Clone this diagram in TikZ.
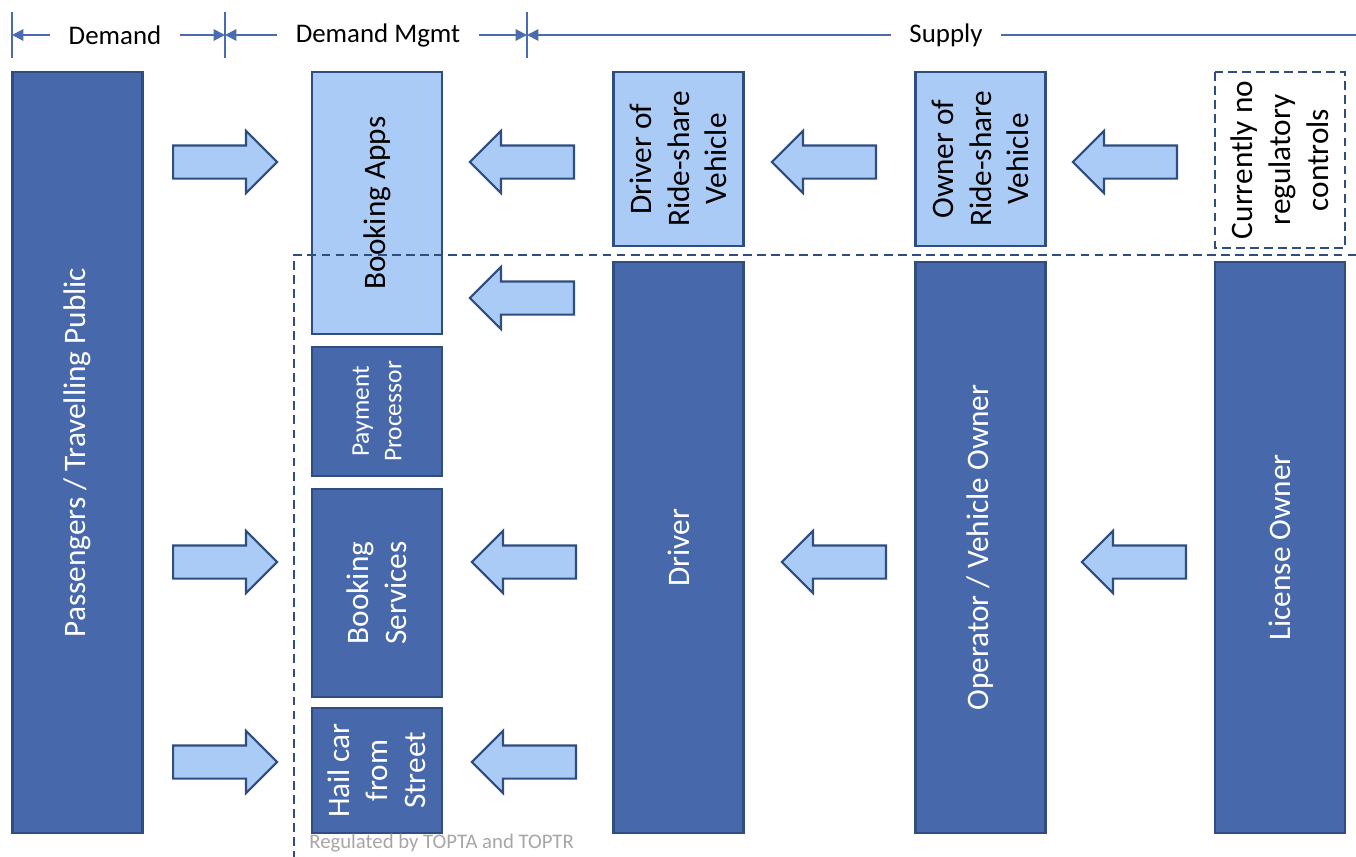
\documentclass[tikz,border=0pt]{standalone}
\usepackage{fontspec}
\setmainfont{Carlito}
\usetikzlibrary{arrows.meta, shapes.arrows}

\definecolor{dkblue}{HTML}{4868AC}
\definecolor{bdblue}{HTML}{2F4D80}
\definecolor{ltblue}{HTML}{AACBF5}
\definecolor{hdblue}{HTML}{4A6BB0}
\definecolor{notegray}{HTML}{A6A6A6}

\begin{document}
\begin{tikzpicture}[
          x=0.02cm, y=-0.02cm,
          dark/.style={rectangle, draw=bdblue, line width=1.2pt, fill=dkblue, text=white, minimum height=2.6cm, align=center, font=\fontsize{17.8}{21.5}\selectfont, inner sep=0pt, rotate=90},
          light/.style={dark, fill=ltblue, text=black},
          nocontrol/.style={dark, fill=none, text=black, dashed, dash pattern=on 5pt off 3pt},
          barrow/.style={single arrow, draw=bdblue, fill=ltblue, line width=1.2pt, inner sep=0.31cm, minimum height=2.08cm, single arrow head extend=0.29cm, single arrow head indent=0pt, anchor=tail},
          larrow/.style={barrow, shape border rotate=180},
          hdr/.style={font=\fontsize{15.3}{18}\selectfont, inner xsep=0.36cm, inner ysep=0pt},
          dim/.style={draw=hdblue, line width=1.1pt, -{Triangle[length=6.5pt, width=6.5pt]}},
          tick/.style={draw=hdblue, line width=1.1pt}
        ]
          \useasboundingbox (0,0) rectangle (1356,856);

          % Header
          \coordinate (t0) at (12,35);
          \coordinate (t1) at (225,35);
          \coordinate (t2) at (527,35);
          \coordinate (tend) at (1356,35);
          \foreach \t in {t0,t1,t2}
            \draw[tick] (\t) ++(0,-23) -- ++(0,46);
          \node[hdr] (hdem) at (115,35) {Demand};
          \node[hdr] (hmgmt) at (378,35) {Demand Mgmt};
          \node[hdr] (hsup) at (946,35) {Supply};
          \draw[dim] (hdem) -- (t0);
          \draw[dim] (hdem) -- (t1);
          \draw[dim] (hmgmt) -- (t1);
          \draw[dim] (hmgmt) -- (t2);
          \draw[dim] (hsup) -- (t2);
          \draw[tick] (hsup) -- (tend);

          % Demand
          \node[dark, minimum width=15.22cm] (pass) at (77.5,452.5) {Passengers / Travelling Public};

          % Demand management
          \node[light, minimum width=5.24cm] (apps) at (377,203) {Booking Apps};
          \node[dark, minimum width=2.58cm, font=\fontsize{14.5}{18.5}\selectfont] (pay) at (377,411.5) {Payment\\Processor};
          \node[dark, minimum width=4.16cm] (bsvc) at (377,593) {Booking\\Services};
          \node[dark, minimum width=2.5cm] (hail) at (377,770.5) {Hail car\\from\\Street};

          % Supply - top row
          \node[light, minimum width=3.48cm] (rsdrv) at (678.5,159) {Driver of\\Ride-share\\Vehicle};
          \node[light, minimum width=3.48cm] (rsown) at (980.5,159) {Owner of\\Ride-share\\Vehicle};
          \node[nocontrol, minimum width=3.52cm] (noctl) at (1280,160) {Currently no\\regulatory\\controls};

          % Supply - regulated
          \node[dark, minimum width=11.42cm] (drv) at (678.5,547.5) {Driver};
          \node[dark, minimum width=11.42cm] (oper) at (980.5,547.5) {Operator / Vehicle Owner};
          \node[dark, minimum width=11.42cm] (lic) at (1280,547.5) {License Owner};

          % Arrows (placed by their tails)
          \node[barrow] (a1) at (172,162) {};
          \node[barrow] (a2) at (172,562) {};
          \node[barrow] (a3) at (172,762) {};
          \node[larrow] (a4) at (575,162) {};
          \node[larrow] (a5) at (575,298) {};
          \node[larrow] (a6) at (577,562) {};
          \node[larrow] (a7) at (577,762) {};
          \node[larrow] (a8) at (877,162) {};
          \node[larrow] (a9) at (887,562) {};
          \node[larrow] (a10) at (1178,162) {};
          \node[larrow] (a11) at (1187,562) {};

          % Regulated area
          \draw[draw=bdblue, line width=1.6pt, dash pattern=on 5pt off 3pt] (294,860) -- (294,255) -- (1360,255);
          \node[anchor=west, text=notegray, font=\fontsize{11.8}{14}\selectfont, inner sep=0pt] (reg) at (309,843) {Regulated by TOPTA and TOPTR};
      \end{tikzpicture}
\end{document}
